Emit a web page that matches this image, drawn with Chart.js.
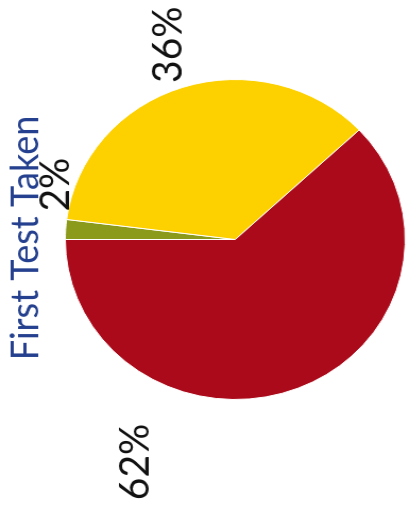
<!DOCTYPE html>
<html>
<head>
<meta charset="utf-8">
<script src="https://cdn.jsdelivr.net/npm/chart.js@4"></script>
<style>
  html, body { margin: 0; padding: 0; background: #fff; overflow: hidden; }
  body { width: 409px; height: 518px; position: relative; }
  /* chart is laid out lying on its side, then turned upright */
  #wrap {
    position: absolute; left: 0; top: 0;
    width: 518px; height: 385px;
    transform-origin: 0 0;
    transform: translate(0, 518px) rotate(-90deg) scale(1, 1.0623);
  }
</style>
</head>
<body>
<div id="wrap"><canvas id="chart" width="518" height="385"></canvas></div>
<script>
const titleText = "First Test Taken";
const categories = ["Other", "Second", "First"];
const shares = [2, 36, 62];
const sliceColors = ["#8c9a1c", "#fdd000", "#aa0a1a"];

// where each percent label sits: angle (deg, canvas frame) and distance in radii
const labelPlace = [
  { angle: -72, dist: 1.11 },
  { angle: -18, dist: 1.28 },
  { angle: -157, dist: 1.51 },
];

const labelPlugin = {
  id: "sideLabels",
  afterDraw(chart) {
    const ctx = chart.ctx;
    const arc = chart.getDatasetMeta(0).data[0];
    const cx = arc.x, cy = arc.y, r = arc.outerRadius;
    ctx.save();
    ctx.textAlign = "center";
    ctx.textBaseline = "middle";
    // title above the pie
    ctx.fillStyle = "#24408e";
    ctx.font = "36px Lato, 'Liberation Sans', sans-serif";
    ctx.fillText(titleText, cx + 1.5, cy - 1.235 * r);
    ctx.fillStyle = "#111";
    ctx.font = "39px Lato, 'Liberation Sans', sans-serif";
    shares.forEach((v, i) => {
      const p = labelPlace[i];
      const a = (p.angle * Math.PI) / 180;
      ctx.fillText(v + "%", cx + Math.cos(a) * p.dist * r, cy + Math.sin(a) * p.dist * r);
    });
    ctx.restore();
  },
};

new Chart(document.getElementById("chart").getContext("2d"), {
  type: "pie",
  data: {
    labels: categories,
    datasets: [
      {
        data: shares,
        backgroundColor: sliceColors,
        borderColor: "#ffffff",
        borderWidth: 1,
      },
    ],
  },
  options: {
    responsive: false,
    animation: false,
    devicePixelRatio: 1,
    layout: { padding: { left: 118, right: 79, top: 61, bottom: 3 } },
    plugins: {
      legend: { display: false },
      title: { display: false },
      tooltip: { enabled: false },
    },
  },
  plugins: [labelPlugin],
});
</script>
</body>
</html>
